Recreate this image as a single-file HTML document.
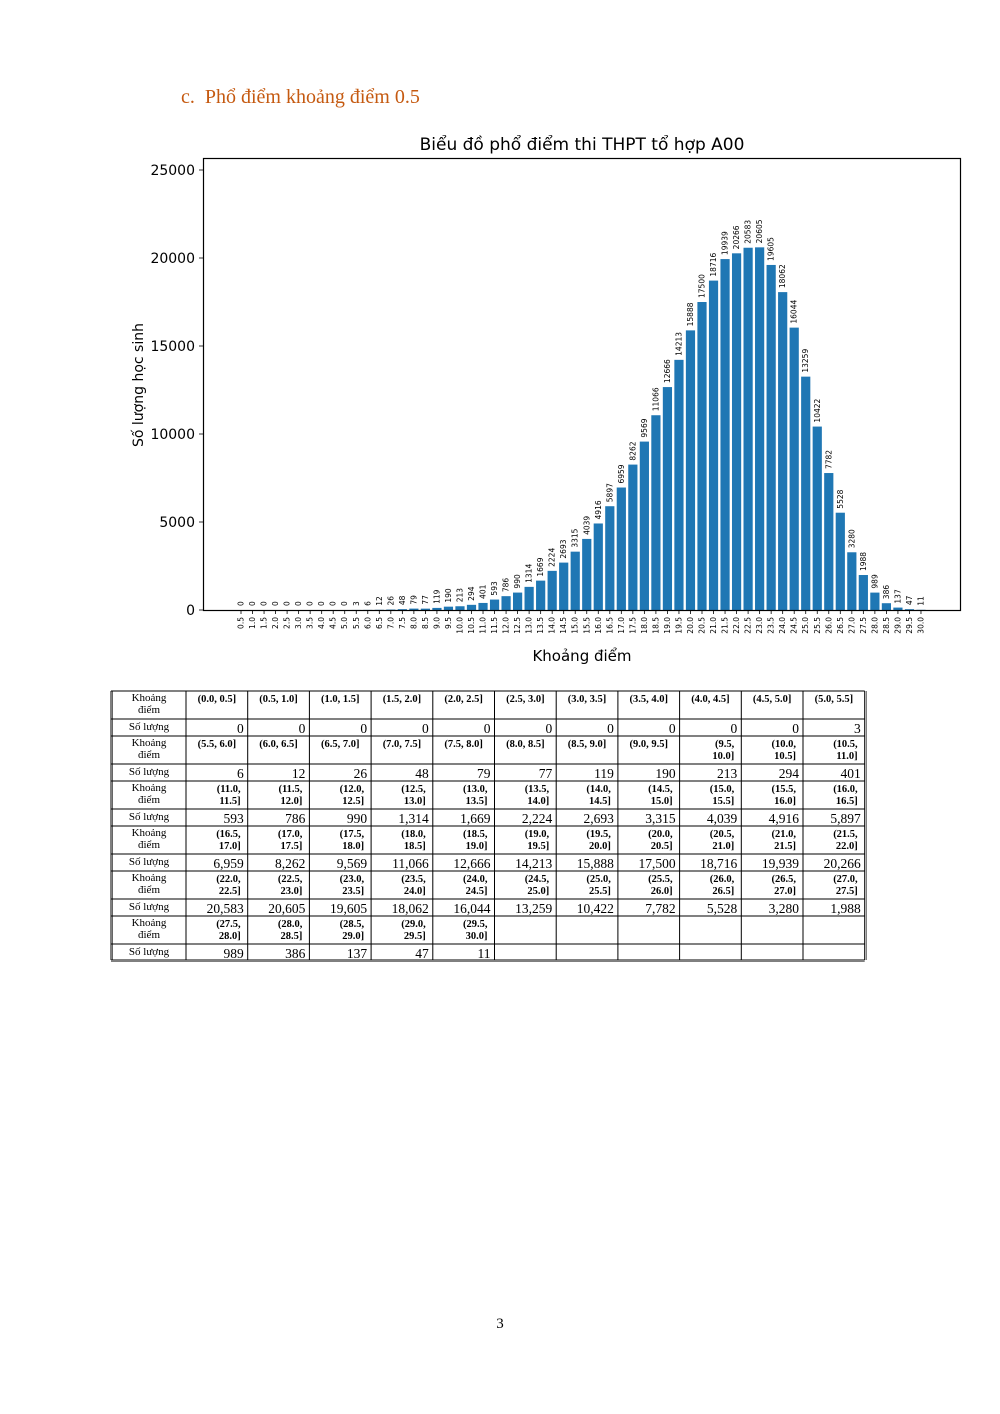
<!DOCTYPE html>
<html><head><meta charset="utf-8">
<style>
body{margin:0;background:#fff;}
svg{display:block}
</style></head>
<body>
<svg id="s" width="1000" height="1414" xmlns="http://www.w3.org/2000/svg">
<rect width="1000" height="1414" fill="#fff"/>
<text x="181" y="103" font-family="Liberation Serif, serif" font-size="20" fill="#c55a11">c.&#160;&#160;Phổ điểm khoảng điểm 0.5</text>
<text x="582" y="150" text-anchor="middle" font-family="DejaVu Sans, sans-serif" font-size="17" fill="#000">Biểu đồ phổ điểm thi THPT tổ hợp A00</text>
<g id="bars"></g>
<rect x="203.5" y="158.5" width="757" height="452" fill="none" stroke="#000" stroke-width="1.2"/>
<g id="yax" font-family="DejaVu Sans, sans-serif" font-size="14" text-anchor="end"></g>
<text transform="translate(143,385) rotate(-90)" text-anchor="middle" font-family="DejaVu Sans, sans-serif" font-size="14">Số lượng học sinh</text>
<text x="582" y="661" text-anchor="middle" font-family="DejaVu Sans, sans-serif" font-size="15">Khoảng điểm</text>
<g id="tbl" font-family="Liberation Serif, serif"></g>
<text x="500" y="1328" text-anchor="middle" font-family="Liberation Serif, serif" font-size="15">3</text>
</svg>
<script>
var v=[0,0,0,0,0,0,0,0,0,0,3,6,12,26,48,79,77,119,190,213,294,401,593,786,990,1314,1669,2224,2693,3315,4039,4916,5897,6959,8262,9569,11066,12666,14213,15888,17500,18716,19939,20266,20583,20605,19605,18062,16044,13259,10422,7782,5528,3280,1988,989,386,137,47,11];
var NS="http://www.w3.org/2000/svg";
function el(p,t,a,txt){var e=document.createElementNS(NS,t);for(var k in a)e.setAttribute(k,a[k]);if(txt!==undefined)e.textContent=txt;p.appendChild(e);return e;}
var g=document.getElementById('bars');
var sc=440/25000;
for(var i=0;i<60;i++){
 var cx=241+i*11.525, h=v[i]*sc;
 el(g,'rect',{x:cx-4.6,y:610-h,width:9.2,height:h,fill:'#1f77b4'});
 el(g,'line',{x1:cx,x2:cx,y1:610,y2:614,stroke:'#000','stroke-width':0.8});
 el(g,'text',{transform:'translate('+(cx+2.5)+','+(606-h)+') rotate(-90)','font-family':'DejaVu Sans, sans-serif','font-size':7.5},String(v[i]));
 el(g,'text',{transform:'translate('+(cx+2.5)+',617) rotate(-90)','font-family':'DejaVu Sans, sans-serif','font-size':7.5,'text-anchor':'end'},((i+1)*0.5).toFixed(1));
}
var y=document.getElementById('yax');
for(var k=0;k<=5;k++){var yy=610-k*5000*sc;
 el(y,'line',{x1:199,x2:203,y1:yy,y2:yy,stroke:'#000','stroke-width':0.8});
 el(y,'text',{x:195,y:yy+5},String(k*5000));}
// table
var t=document.getElementById('tbl');
var X0=111,X1=186,W=61.7,Y0=691;
var idx=0;
function fmt(n){return n.toLocaleString('en-US');}
for(var r=0;r<6;r++){
 var yh=Y0+r*45, yc=yh+28;
 el(t,'text',{x:149,y:yh+10,'font-size':11,'text-anchor':'middle'},'Khoảng');
 el(t,'text',{x:149,y:yh+22,'font-size':11,'text-anchor':'middle'},'điểm');
 el(t,'text',{x:149,y:yc+11,'font-size':11,'text-anchor':'middle'},'Số lượng');
 for(var c=0;c<11;c++){
  var j=r*11+c; if(j>=60)break;
  var lo=(j*0.5).toFixed(1),hi=((j+1)*0.5).toFixed(1);
  var xl=X1+c*W, xr=xl+W;
  if(j<19){el(t,'text',{x:xl+W/2,y:yh+11,'font-size':10.5,'font-weight':'bold','text-anchor':'middle'},'('+lo+', '+hi+']');}
  else{el(t,'text',{x:xr-7,y:yh+11,'font-size':10.5,'font-weight':'bold','text-anchor':'end'},'('+lo+',');
       el(t,'text',{x:xr-7,y:yh+23,'font-size':10.5,'font-weight':'bold','text-anchor':'end'},hi+']');}
  el(t,'text',{x:xr-4,y:yc+14,'font-size':13.5,'text-anchor':'end'},fmt(v[j]));
 }
}
var sty={stroke:'#000','stroke-width':1};
var Yb=Y0+6*45-1;
for(var r=0;r<=12;r++){var yy=Y0+Math.floor(r/2)*45+(r%2?28:0); if(r==12)yy=Yb;
 el(t,'line',Object.assign({x1:X0,x2:X1+11*W,y1:yy,y2:yy},sty));}
el(t,'line',Object.assign({x1:X0,x2:X0,y1:Y0,y2:Yb},sty));
for(var c=0;c<=11;c++){var xx=X1+c*W; el(t,'line',Object.assign({x1:xx,x2:xx,y1:Y0,y2:Yb},sty));}
el(t,'line',{x1:X0+1.5,x2:X0+1.5,y1:Y0,y2:Yb,stroke:'#000','stroke-width':0.6});
el(t,'line',{x1:X1+11*W+1.5,x2:X1+11*W+1.5,y1:Y0,y2:Yb,stroke:'#000','stroke-width':0.6});
el(t,'line',{x1:X0,x2:X1+11*W,y1:Yb+1.5,y2:Yb+1.5,stroke:'#000','stroke-width':0.6});
</script>
</body></html>
